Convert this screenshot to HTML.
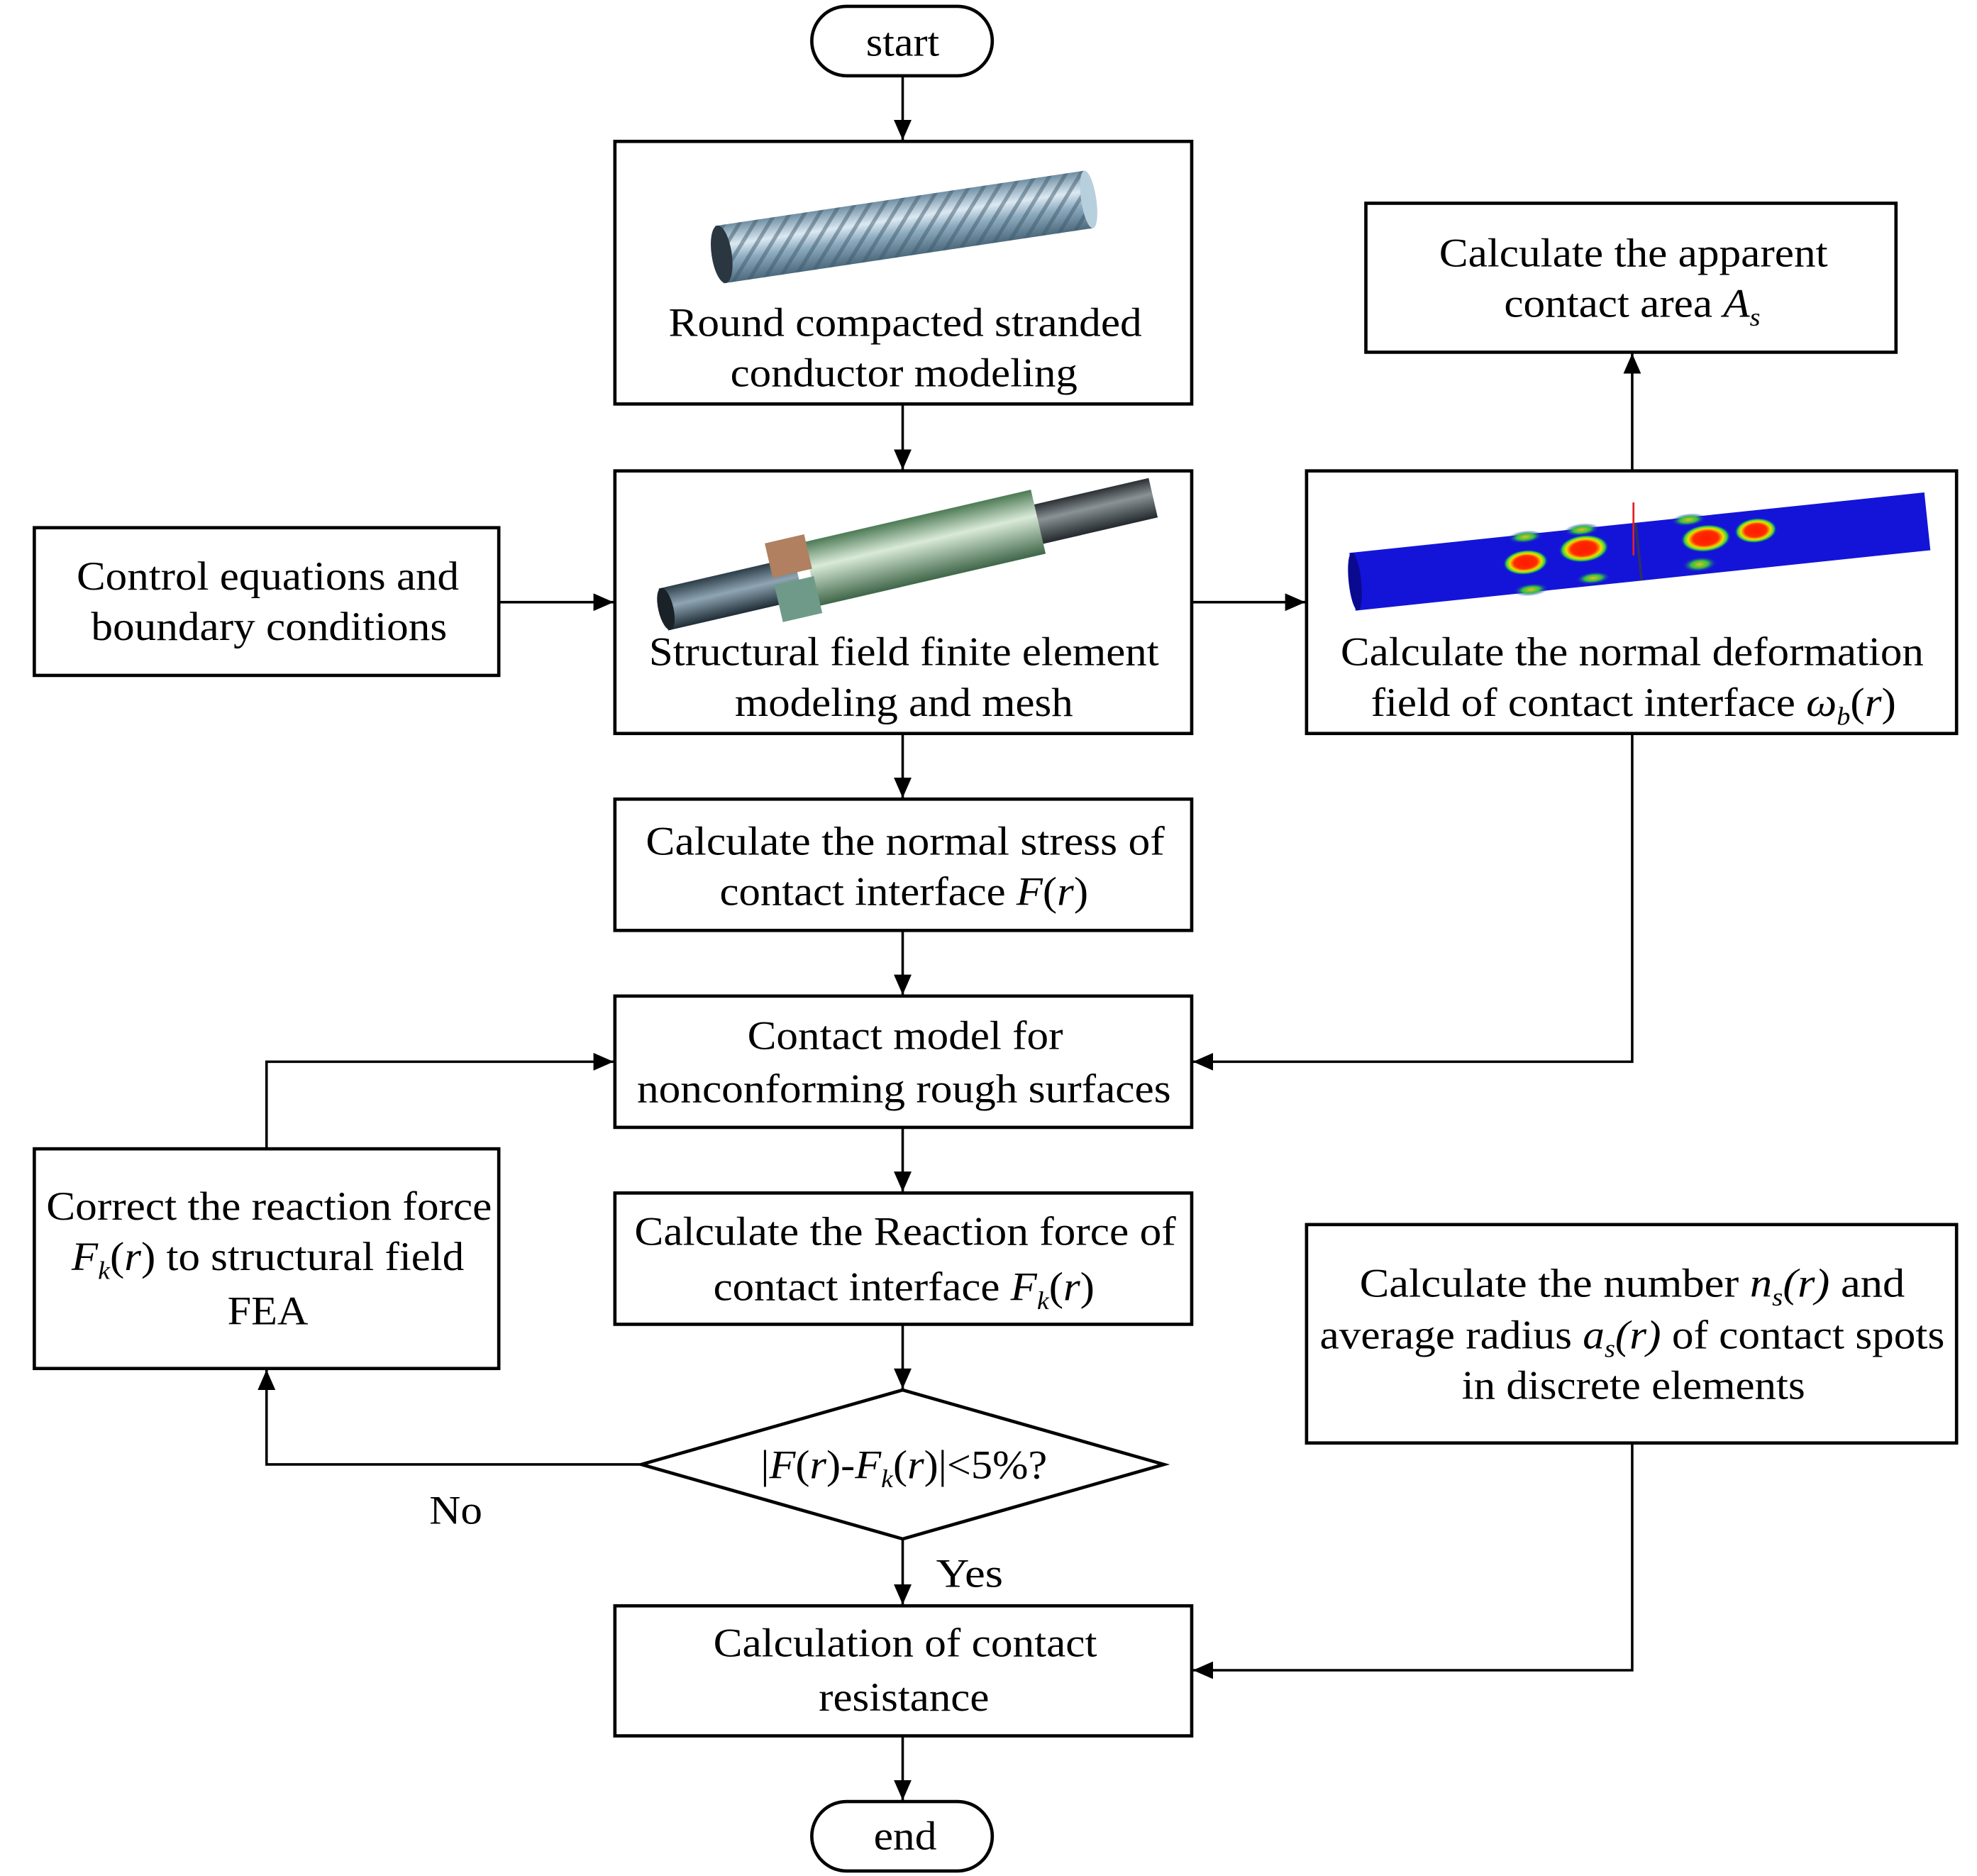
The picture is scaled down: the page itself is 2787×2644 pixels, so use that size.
<!DOCTYPE html>
<html><head><meta charset="utf-8"><style>
html,body{margin:0;padding:0;background:#fff;}
svg{display:block;}
text{font-family:"Liberation Serif",serif;font-size:32px;fill:#000;}
</style></head><body>
<svg width="2787" height="2644" viewBox="0 0 1566 1486" xmlns="http://www.w3.org/2000/svg">
<defs>
<marker id="ah" markerWidth="16" markerHeight="14" refX="16" refY="7" orient="auto" markerUnits="userSpaceOnUse">
<path d="M0,0 L16,7 L0,14 z" fill="#000"/></marker>
<linearGradient id="gBlue" x1="0" y1="0" x2="0" y2="1">
<stop offset="0" stop-color="#6f8ea3"/><stop offset="0.35" stop-color="#dce9f2"/><stop offset="0.6" stop-color="#8eacc0"/><stop offset="1" stop-color="#4d6a7e"/></linearGradient>
<pattern id="stripes" width="10" height="10" patternUnits="userSpaceOnUse" patternTransform="rotate(40)">
<rect width="3" height="10" fill="#3f5a6c" opacity="0.5"/></pattern>
<linearGradient id="gGreen" x1="0" y1="0" x2="0" y2="1">
<stop offset="0" stop-color="#4d7a55"/><stop offset="0.4" stop-color="#d9ead8"/><stop offset="1" stop-color="#3f6648"/></linearGradient>
<linearGradient id="gDark" x1="0" y1="0" x2="0" y2="1">
<stop offset="0" stop-color="#2a2f33"/><stop offset="0.4" stop-color="#8a9296"/><stop offset="1" stop-color="#22282c"/></linearGradient>
<linearGradient id="gDarkB" x1="0" y1="0" x2="0" y2="1">
<stop offset="0" stop-color="#2c3d48"/><stop offset="0.45" stop-color="#8fa5b3"/><stop offset="1" stop-color="#1e2c35"/></linearGradient>
<radialGradient id="spot"><stop offset="0" stop-color="#ff1a00"/><stop offset="0.5" stop-color="#ff2a00"/><stop offset="0.7" stop-color="#f0e000"/><stop offset="0.85" stop-color="#30d040"/><stop offset="1" stop-color="#1010e0" stop-opacity="0"/></radialGradient>
<radialGradient id="spotS"><stop offset="0" stop-color="#e0c020"/><stop offset="0.5" stop-color="#30c040"/><stop offset="1" stop-color="#1010e0" stop-opacity="0"/></radialGradient>
</defs>
<g fill="none" stroke="#000" stroke-width="2.6">
<rect x="643" y="5" width="143" height="55" rx="27.5"/>
<rect x="487" y="112" width="457" height="208"/>
<rect x="487" y="373" width="457" height="208"/>
<rect x="27" y="418" width="368" height="117"/>
<rect x="1035" y="373" width="515" height="208"/>
<rect x="1082" y="161" width="420" height="118"/>
<rect x="487" y="633" width="457" height="104"/>
<rect x="487" y="789" width="457" height="104"/>
<rect x="487" y="945" width="457" height="104"/>
<rect x="27" y="910" width="368" height="174"/>
<rect x="1035" y="970" width="515" height="173"/>
<rect x="487" y="1272" width="457" height="103"/>
<rect x="643" y="1427" width="143" height="55" rx="27.5"/>
<polygon points="508,1160 715,1101 922,1160 715,1219"/>
</g>
<g fill="none" stroke="#000" stroke-width="2" marker-end="url(#ah)">
<line x1="715" y1="60" x2="715" y2="111"/>
<line x1="715" y1="320" x2="715" y2="372"/>
<line x1="395" y1="477" x2="486" y2="477"/>
<line x1="944" y1="477" x2="1034" y2="477"/>
<line x1="1293" y1="373" x2="1293" y2="280"/>
<polyline points="1293,581 1293,841 945,841"/>
<line x1="715" y1="581" x2="715" y2="632"/>
<line x1="715" y1="737" x2="715" y2="788"/>
<line x1="715" y1="893" x2="715" y2="944"/>
<line x1="715" y1="1049" x2="715" y2="1100"/>
<polyline points="508,1160 211,1160 211,1085"/>
<polyline points="211,910 211,841 486,841"/>
<line x1="715" y1="1219" x2="715" y2="1271"/>
<polyline points="1293,1143 1293,1323 945,1323"/>
<line x1="715" y1="1375" x2="715" y2="1426"/>
</g>
<g transform="rotate(-8.5 715 180)">
<rect x="568" y="157" width="296" height="46" fill="url(#gBlue)"/>
<rect x="568" y="157" width="296" height="46" fill="url(#stripes)"/>
<ellipse cx="864" cy="180" rx="6" ry="23" fill="#b8cfdd"/>
<ellipse cx="570" cy="180" rx="8" ry="23" fill="#2a3640"/>
</g>
<g transform="rotate(-13 715 437)">
<rect x="520" y="422" width="110" height="34" fill="url(#gDarkB)"/>
<ellipse cx="522" cy="439" rx="6" ry="17" fill="#1a2228"/>
<rect x="800" y="424" width="118" height="32" fill="url(#gDark)"/>
<rect x="640" y="412" width="185" height="52" fill="url(#gGreen)"/>
<rect x="610" y="406" width="32" height="28" fill="#b08060"/>
<rect x="610" y="440" width="32" height="30" fill="#6f9a8a"/>
</g>
<g transform="rotate(-6 1298 436)">
<rect x="1070" y="414" width="458" height="46" fill="#1414d8"/>
<ellipse cx="1072" cy="437" rx="5" ry="23" fill="#0a0a90"/>
<line x1="1298" y1="414" x2="1298" y2="460" stroke="#303060" stroke-width="2"/>
<ellipse cx="1208" cy="436" rx="18" ry="10" fill="url(#spot)"/>
<ellipse cx="1255" cy="430" rx="20" ry="11" fill="url(#spot)"/>
<ellipse cx="1352" cy="432" rx="20" ry="11" fill="url(#spot)"/>
<ellipse cx="1392" cy="430" rx="17" ry="10" fill="url(#spot)"/>
<ellipse cx="1210" cy="416" rx="14" ry="5" fill="url(#spotS)"/>
<ellipse cx="1255" cy="415" rx="14" ry="5" fill="url(#spotS)"/>
<ellipse cx="1210" cy="458" rx="14" ry="5" fill="url(#spotS)"/>
<ellipse cx="1260" cy="454" rx="14" ry="5" fill="url(#spotS)"/>
<ellipse cx="1345" cy="452" rx="14" ry="6" fill="url(#spotS)"/>
<ellipse cx="1340" cy="416" rx="14" ry="5" fill="url(#spotS)"/>
</g>
<line x1="1294" y1="440" x2="1294" y2="398" stroke="#e02020" stroke-width="1.5"/>
<g text-anchor="middle">
<text x="715" y="44" textLength="58" lengthAdjust="spacingAndGlyphs">start</text>
<text x="717" y="266" textLength="375" lengthAdjust="spacingAndGlyphs">Round compacted stranded</text>
<text x="716" y="306" textLength="275" lengthAdjust="spacingAndGlyphs">conductor modeling</text>
<text x="212" y="467" textLength="303" lengthAdjust="spacingAndGlyphs">Control equations and</text>
<text x="213" y="507" textLength="282" lengthAdjust="spacingAndGlyphs">boundary conditions</text>
<text x="716" y="527" textLength="404" lengthAdjust="spacingAndGlyphs">Structural field finite element</text>
<text x="716" y="567" textLength="268" lengthAdjust="spacingAndGlyphs">modeling and mesh</text>
<text x="1294" y="211" textLength="308" lengthAdjust="spacingAndGlyphs">Calculate the apparent</text>
<text x="1293" y="251" textLength="203" lengthAdjust="spacingAndGlyphs">contact area <tspan font-style="italic">A</tspan><tspan font-style="italic" font-size="20" dy="7">s</tspan></text>
<text x="1293" y="527" textLength="462" lengthAdjust="spacingAndGlyphs">Calculate the normal deformation</text>
<text x="1294" y="567" textLength="416" lengthAdjust="spacingAndGlyphs">field of contact interface <tspan font-style="italic">ω</tspan><tspan font-style="italic" font-size="20" dy="7">b</tspan><tspan dy="-7">(</tspan><tspan font-style="italic">r</tspan>)</text>
<text x="717" y="677" textLength="411" lengthAdjust="spacingAndGlyphs">Calculate the normal stress of</text>
<text x="716" y="717" textLength="292" lengthAdjust="spacingAndGlyphs">contact interface <tspan font-style="italic">F</tspan>(<tspan font-style="italic">r</tspan>)</text>
<text x="717" y="831" textLength="250" lengthAdjust="spacingAndGlyphs">Contact model for</text>
<text x="716" y="873" textLength="423" lengthAdjust="spacingAndGlyphs">nonconforming rough surfaces</text>
<text x="717" y="986" textLength="429" lengthAdjust="spacingAndGlyphs">Calculate the Reaction force of</text>
<text x="716" y="1030" textLength="302" lengthAdjust="spacingAndGlyphs">contact interface <tspan font-style="italic">F</tspan><tspan font-style="italic" font-size="20" dy="7">k</tspan><tspan dy="-7">(</tspan><tspan font-style="italic">r</tspan>)</text>
<text x="213" y="966" textLength="353" lengthAdjust="spacingAndGlyphs">Correct the reaction force</text>
<text x="212" y="1006" textLength="311" lengthAdjust="spacingAndGlyphs"><tspan font-style="italic">F</tspan><tspan font-style="italic" font-size="20" dy="7">k</tspan><tspan dy="-7">(</tspan><tspan font-style="italic">r</tspan>) to structural field</text>
<text x="212" y="1049" textLength="64" lengthAdjust="spacingAndGlyphs">FEA</text>
<text x="1293" y="1027" textLength="432" lengthAdjust="spacingAndGlyphs">Calculate the  number <tspan font-style="italic">n</tspan><tspan font-style="italic" font-size="20" dy="7">s</tspan><tspan font-style="italic" dy="-7">(r)</tspan> and</text>
<text x="1293" y="1068" textLength="495" lengthAdjust="spacingAndGlyphs">average radius <tspan font-style="italic">a</tspan><tspan font-style="italic" font-size="20" dy="7">s</tspan><tspan font-style="italic" dy="-7">(r)</tspan> of contact spots</text>
<text x="1294" y="1108" textLength="272" lengthAdjust="spacingAndGlyphs">in discrete elements</text>
<text x="716" y="1171" textLength="227" lengthAdjust="spacingAndGlyphs">|<tspan font-style="italic">F</tspan>(<tspan font-style="italic">r</tspan>)-<tspan font-style="italic">F</tspan><tspan font-style="italic" font-size="20" dy="7">k</tspan><tspan dy="-7">(</tspan><tspan font-style="italic">r</tspan>)|&lt;5%?</text>
<text x="361" y="1207" textLength="42" lengthAdjust="spacingAndGlyphs">No</text>
<text x="768" y="1257" textLength="53" lengthAdjust="spacingAndGlyphs">Yes</text>
<text x="717" y="1312" textLength="304" lengthAdjust="spacingAndGlyphs">Calculation of contact</text>
<text x="716" y="1355" textLength="135" lengthAdjust="spacingAndGlyphs">resistance</text>
<text x="717" y="1465" textLength="50" lengthAdjust="spacingAndGlyphs">end</text>
</g>
</svg>
</body></html>
